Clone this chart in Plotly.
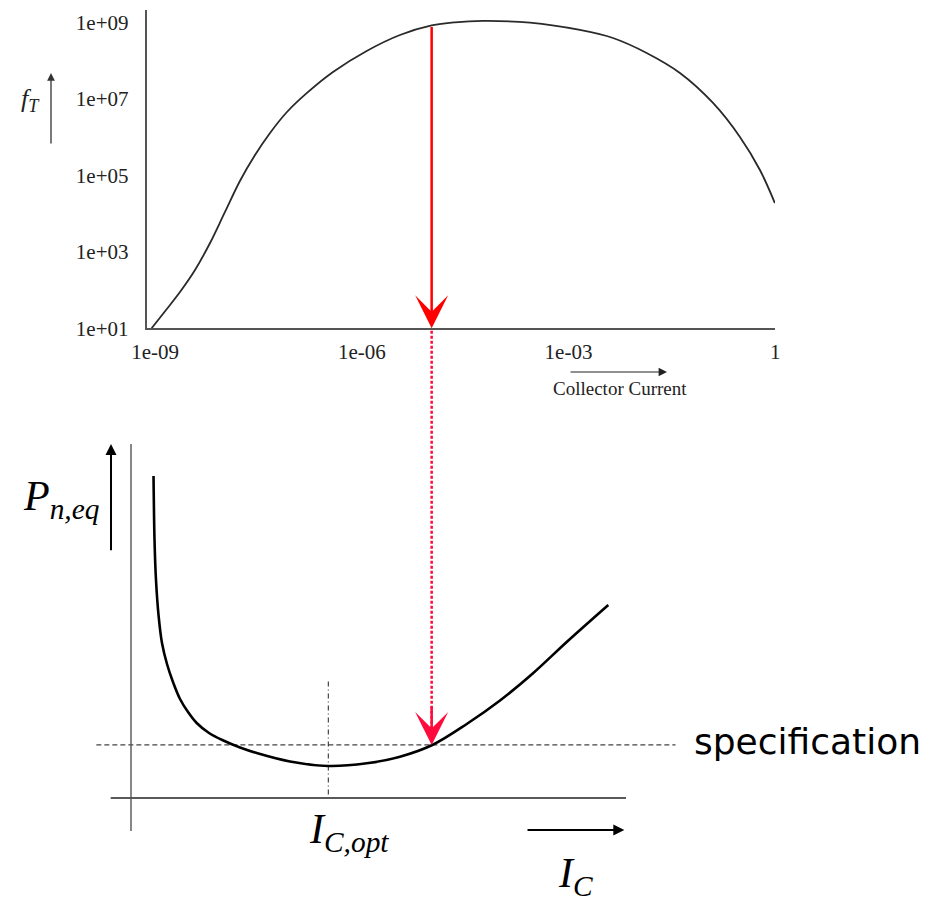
import numpy as np
import plotly.graph_objects as go

W, H = 930, 901

# --- Transit frequency vs. collector current (log-log) ---
collector_current = [1.05e-9, 1.70e-9, 2.71e-9, 4.48e-9, 7.40e-9, 1.22e-8, 2.01e-8, 3.33e-8,
                     5.50e-8, 9.68e-8, 1.89e-7, 4.51e-7, 1.39e-6, 4.23e-6, 1.22e-5, 2.66e-5,
                     6.78e-5, 3.26e-4, 1.73e-3, 5.22e-3, 1.61e-2, 4.90e-2, 0.148, 0.364,
                     0.710, 1.17]
transit_freq = [1.0e1, 30.1, 89, 336, 1.71e3, 1.11e4, 7.18e4, 3.44e5, 1.30e6, 4.59e6,
                1.45e7, 5.12e7, 1.82e8, 4.76e8, 8.45e8, 1.02e9, 1.11e9, 1.0e9, 6.44e8,
                3.97e8, 1.61e8, 4.82e7, 7.91e6, 1.02e6, 1.39e5, 1.9e4]
x_tick_vals = [1e-9, 1e-6, 1e-3, 1]
x_tick_text = ["1e-09", "1e-06", "1e-03", "1"]
x_mark_vals = [1e-6, 1e-3]
y_tick_vals = [1e1, 1e3, 1e5, 1e7, 1e9]
y_tick_text = ["1e+01", "1e+03", "1e+05", "1e+07", "1e+09"]
y_mark_vals = [1e3, 1e5, 1e7, 1e9]
selected_index = 14          # operating point chosen on the fT curve

# --- Equivalent noise power sketch (arbitrary units) ---
ic_sketch = [0.455, 0.475, 0.505, 0.556, 0.626, 0.727, 0.848, 0.990, 1.152, 1.327,
             1.576, 1.865, 2.202, 2.539, 3.212, 3.986, 4.762, 5.434, 6.087, 6.782,
             7.455, 8.127, 8.802, 9.642]
pneq_sketch = [9.096, 7.288, 6.158, 5.169, 4.379, 3.785, 3.277, 2.797, 2.429, 2.119,
               1.836, 1.624, 1.427, 1.271, 1.031, 0.904, 0.980, 1.167, 1.497, 2.090,
               2.754, 3.531, 4.407, 5.452]
spec_level = 1.5
ic_opt = 3.986

ic_sel = collector_current[selected_index]
ft_sel = transit_freq[selected_index]

SERIF = "Liberation Serif"
RED = "#ff0000"
PINK_RED = "#ff0a3c"


def px(p):
    return p / W


def py(p):
    return 1 - p / H


fig = go.Figure()

# fT curve
fig.add_trace(go.Scatter(x=collector_current, y=transit_freq, mode="lines",
                         line=dict(color="#2a2a2a", width=1.8, shape="spline", smoothing=1.0),
                         xaxis="x", yaxis="y", hoverinfo="skip"))

# dotted projection from the fT plot down to the noise sketch
fig.add_trace(go.Scatter(x=[ic_sel, ic_sel], y=[13.2, spec_level + 0.4], mode="lines",
                         line=dict(color=PINK_RED, width=2.5, dash="3px,2px"),
                         xaxis="x", yaxis="y2", hoverinfo="skip", cliponaxis=False))

# noise sketch: axes, spec line, optimum marker, curve
fig.add_trace(go.Scatter(x=[-0.7, 11.0], y=[spec_level, spec_level], mode="lines",
                         line=dict(color="#444", width=1.3, dash="5px,3px"),
                         xaxis="x2", yaxis="y2", hoverinfo="skip"))
fig.add_trace(go.Scatter(x=[ic_opt, ic_opt], y=[0.1, 3.37], mode="lines",
                         line=dict(color="#333", width=1.1, dash="5px,3px,1px,3px"),
                         xaxis="x2", yaxis="y2", hoverinfo="skip"))
fig.add_trace(go.Scatter(x=[-0.41, 10.0], y=[0, 0], mode="lines",
                         line=dict(color="#222", width=1.4),
                         xaxis="x2", yaxis="y2", hoverinfo="skip"))
fig.add_trace(go.Scatter(x=[0, 0], y=[-0.93, 10.0], mode="lines",
                         line=dict(color="#555", width=1.4),
                         xaxis="x2", yaxis="y2", hoverinfo="skip"))
fig.add_trace(go.Scatter(x=ic_sketch, y=pneq_sketch, mode="lines",
                         line=dict(color="#000", width=2.6, shape="spline", smoothing=1.0),
                         xaxis="x2", yaxis="y2", hoverinfo="skip"))

x_dom = [146.7 / W, 775 / W]
y_dom = [py(328.3), py(10)]
x_rng = [-9.05, 0.07]
y_rng = [1, 9.332]
tickfont = dict(family=SERIF, size=21, color="#222")

annotations = [
    # red arrow on the fT plot
    dict(xref="x", yref="y", x=np.log10(ic_sel), y=y_rng[0],
         axref="x", ayref="y", ax=np.log10(ic_sel), ay=np.log10(ft_sel),
         showarrow=True, text="", arrowhead=3, arrowsize=2.2, arrowwidth=2.5,
         arrowcolor=RED, standoff=0),
    # arrowhead of the dotted projection
    dict(xref="x", yref="y2", x=np.log10(ic_sel), y=spec_level,
         ax=0, ay=-40, showarrow=True, text="", arrowhead=3, arrowsize=2.2,
         arrowwidth=2.5, arrowcolor=PINK_RED, standoff=0),
    # fT axis label and arrow
    dict(xref="paper", yref="paper", x=px(30), y=py(100), xanchor="center", yanchor="middle",
         showarrow=False, text="<i>f</i><sub><i>T</i></sub>",
         font=dict(family=SERIF, size=26, color="#222")),
    dict(xref="paper", yref="paper", x=px(51), y=py(73), ax=0, ay=72, showarrow=True,
         text="", arrowhead=2, arrowsize=1.2, arrowwidth=1.3, arrowcolor="#333"),
    # Collector Current label and arrow
    dict(xref="paper", yref="paper", x=px(620), y=py(388), showarrow=False,
         text="Collector Current", font=dict(family=SERIF, size=19, color="#222")),
    dict(xref="paper", yref="paper", x=px(667), y=py(372), ax=-98, ay=0, showarrow=True,
         text="", arrowhead=2, arrowsize=1.4, arrowwidth=1.2, arrowcolor="#222"),
    # noise sketch labels and arrows
    dict(xref="x2", yref="y2", x=-0.404, y=10.0, axref="x2", ayref="y2", ax=-0.404, ay=6.958,
         showarrow=True, text="", arrowhead=2, arrowsize=1.1, arrowwidth=2, arrowcolor="#000"),
    dict(xref="x2", yref="y2", x=9.966, y=-0.904, axref="x2", ayref="y2", ax=7.98, ay=-0.904,
         showarrow=True, text="", arrowhead=2, arrowsize=1.1, arrowwidth=2, arrowcolor="#000"),
    dict(xref="x2", yref="y2", x=-2.222, y=8.446, xanchor="left", yanchor="middle",
         showarrow=False, text="<i>P</i><sub><i>n,eq</i></sub>",
         font=dict(family=SERIF, size=42, color="#000")),
    dict(xref="x2", yref="y2", x=3.556, y=-0.96, xanchor="left", yanchor="middle",
         showarrow=False, text="<i>I</i><sub><i>C,opt</i></sub>",
         font=dict(family=SERIF, size=42, color="#000")),
    dict(xref="x2", yref="y2", x=8.586, y=-2.19, xanchor="left", yanchor="middle",
         showarrow=False, text="<i>I</i><sub><i>C</i></sub>",
         font=dict(family=SERIF, size=42, color="#000")),
    dict(xref="x2", yref="y2", x=11.333, y=1.604, xanchor="left", yanchor="middle",
         showarrow=False, text="specification",
         font=dict(family="DejaVu Sans", size=36, color="#000")),
]

fig.update_layout(
    width=W, height=H, margin=dict(l=0, r=0, t=0, b=0, autoexpand=False),
    paper_bgcolor="white", plot_bgcolor="rgba(0,0,0,0)", showlegend=False,
    xaxis=dict(type="log", domain=x_dom, range=x_rng, anchor="y", automargin=False,
               showline=True, linecolor="#555", linewidth=2, showgrid=False, zeroline=False,
               tickvals=x_tick_vals, ticktext=x_tick_text, ticks="",
               tickfont=tickfont, ticklabeloverflow="allow",
               ticklabelstandoff=3, ticklabelshift=5),
    xaxis3=dict(type="log", range=x_rng, overlaying="x", anchor="y", automargin=False,
                showline=False, showgrid=False, zeroline=False, showticklabels=False,
                tickvals=x_mark_vals, ticks="inside", ticklen=10, tickwidth=1, tickcolor="#777"),
    yaxis=dict(type="log", domain=y_dom, range=y_rng, anchor="x", automargin=False,
               showline=True, linecolor="#555", linewidth=2, showgrid=False, zeroline=False,
               tickvals=y_tick_vals, ticktext=y_tick_text, ticks="",
               tickfont=tickfont, ticklabelstandoff=12, ticklabeloverflow="allow"),
    yaxis3=dict(type="log", range=y_rng, overlaying="y", anchor="x", automargin=False,
                showline=False, showgrid=False, zeroline=False, showticklabels=False,
                tickvals=y_mark_vals, ticks="outside", ticklen=6, tickwidth=1, tickcolor="#777"),
    yaxis4=dict(type="log", range=y_rng, overlaying="y", anchor="x", automargin=False,
                showline=False, showgrid=False, zeroline=False, showticklabels=False,
                tickvals=y_mark_vals, ticks="inside", ticklen=6, tickwidth=1, tickcolor="#777"),
    xaxis2=dict(domain=[0, 1], range=[-2.6465, 16.141], anchor="y2", visible=False),
    yaxis2=dict(domain=[0, py(329)], range=[-2.9096, 13.2486], anchor="x2", visible=False),
    annotations=annotations,
)

fig.write_html("out.html")
